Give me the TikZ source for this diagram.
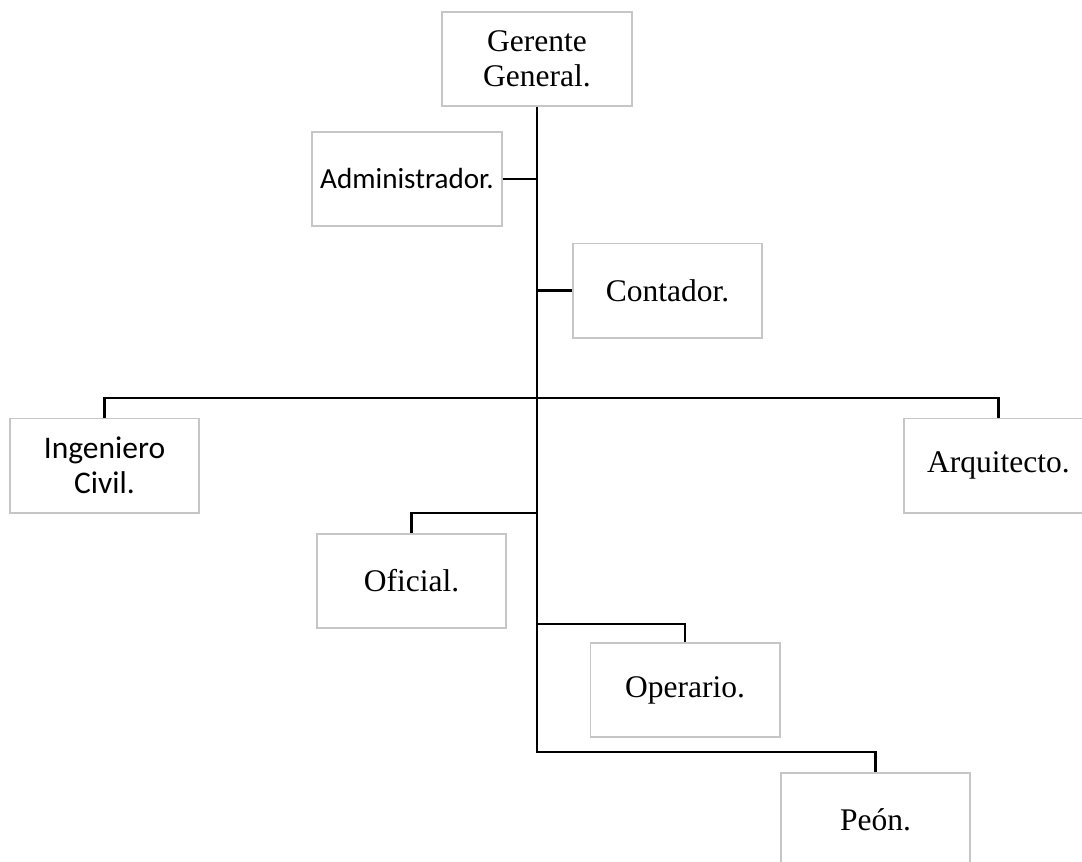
\documentclass[tikz,border=0pt]{standalone}
\usepackage{fontspec}
\setmainfont{Liberation Serif}
\newfontfamily\calfont{Carlito}
\usepackage{tikz}

\begin{document}
\begin{tikzpicture}[x=0.025cm,y=-0.025cm,
puesto/.style={draw=gray!45,line width=1.4pt,fill=white,
minimum width=4.725cm,minimum height=2.35cm,inner sep=0pt,align=center,
font=\fontsize{22.4}{24.9}\selectfont},
enlace/.style={line width=1.9pt}
]
\useasboundingbox (0,0) rectangle (1082,861);
\node[puesto] (ger) at (537,59) {Gerente\\General.};
\node[puesto,font=\calfont\fontsize{20.7}{24.9}\selectfont] (adm) at (407,179) {Administrador.};
\node[puesto] (con) at (667.5,290.5) {Contador.};
\node[puesto,font=\calfont\fontsize{22.4}{24.9}\selectfont] (ing) at (104.5,465.5) {Ingeniero\\Civil.};
\node[puesto] (arq) at (998.5,465.5) {Arquitecto.};
\node[puesto] (ofi) at (411.5,581) {Oficial.};
\node[puesto] (ope) at (685,690) {Operario.};
\node[puesto] (peon) at (875.5,820) {Peón.};
\coordinate (bus1) at (537,398);
\coordinate (bus2) at (537,513);
\coordinate (bus3) at (537,624);
\coordinate (bus4) at (537,752);
\draw[enlace] (ger.south) -- (bus4) -| (peon.north);
\draw[enlace] (adm.east) -- (adm.east -| ger.south);
\draw[enlace] (con.west) -- (con.west -| ger.south);
\draw[enlace] (ing.north) |- (bus1) -| (arq.north);
\draw[enlace] (ofi.north) |- (bus2);
\draw[enlace] (ope.north) |- (bus3);
\end{tikzpicture}
\end{document}
